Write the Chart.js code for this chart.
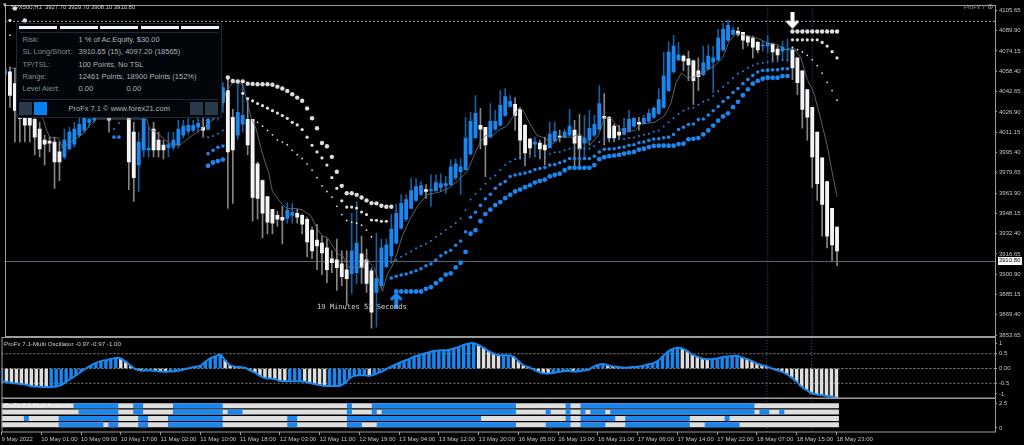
<!DOCTYPE html>
<html>
<head>
<meta charset="utf-8">
<script src="https://cdn.jsdelivr.net/npm/chart.js@4/dist/chart.umd.min.js"></script>
<style>
  html, body { margin: 0; background: #000; overflow: hidden; }
  #wrap { position: relative; width: 1024px; height: 445px; font-family: "Liberation Sans", sans-serif; color: #c4c4c4; }
  canvas { position: absolute; left: 0; }
  .t { position: absolute; white-space: nowrap; font-size: 6px; line-height: 8px; }
  #panel { position: absolute; left: 15.5px; top: 22.5px; width: 204px; height: 93px; background: #02060a; border: 1px solid #1c2a38; }
  #panel .t { font-size: 7.5px; line-height: 10px; color: #7f8c96; }
  #panel .v { color: #aeb4b8; }
  .seg { position: absolute; top: 2.5px; height: 3px; width: 38px; background: #f2f2f2; }
  .rule { position: absolute; left: 3px; width: 198px; height: 1px; background: #1c2a38; }
  .btn { position: absolute; top: 78px; width: 13px; height: 13px; background: #2a3a4a; }
</style>
</head>
<body>
<div id="wrap">
  <canvas id="mainChart" width="1024" height="342" style="top:0"></canvas>
  <canvas id="oscChart" width="1024" height="66" style="top:337px"></canvas>
  <canvas id="analyzerChart" width="1024" height="47" style="top:398px"></canvas>

  <div class="t" style="left:3px;top:1px;font-size:7px">&#9662;</div>
  <div class="t" style="left:11px;top:3px;font-size:5.9px;color:#d4d4d4">SPX500,H1&nbsp; 3927.70 3929.70 3908.10 3910.80</div>
  <div class="t" style="left:964px;top:3px;color:#9a9a9a">ProFx 7 <span style="font-family:'DejaVu Sans';font-size:8px">&#8859;</span></div>
  <div class="t" style="left:317px;top:303px;font-family:'DejaVu Sans Mono';font-size:7.1px;color:#d0d0d0">19 Minutes 52 Seconds</div>
  <div class="t" style="left:997.5px;top:257px;width:24px;height:7.5px;line-height:7.5px;background:#fff;color:#000;text-align:center">3910.80</div>
  <div class="t" style="left:4px;top:340px;color:#d0d0d0;font-size:6.2px">ProFx 7.1-Multi Oscillator -0.97 -0.97 -1.00</div>
  <div class="t" style="left:4px;top:401px;color:#f4f4f4;font-size:6.2px">ProFx 7.1-Multi Analyzer</div>

  <div id="panel">
    <div class="seg" style="left:2.5px"></div><div class="seg" style="left:43px"></div><div class="seg" style="left:83.5px"></div><div class="seg" style="left:124px"></div><div class="seg" style="left:164px"></div>
    <div class="rule" style="top:8px"></div>
    <div class="t" style="left:6px;top:11px">Risk:</div><div class="t v" style="left:62px;top:11px">1 % of Ac.Equity, $30.00</div>
    <div class="t" style="left:6px;top:23px">SL Long/Short:</div><div class="t v" style="left:62px;top:23px">3910.65 (15), 4097.20 (18565)</div>
    <div class="t" style="left:6px;top:36px">TP/TSL:</div><div class="t v" style="left:62px;top:36px">100 Points, No TSL</div>
    <div class="t" style="left:6px;top:48px">Range:</div><div class="t v" style="left:62px;top:48px">12461 Points, 18900 Points (152%)</div>
    <div class="t" style="left:6px;top:60px">Level Alert:</div><div class="t v" style="left:62px;top:60px">0.00</div><div class="t v" style="left:110px;top:60px">0.00</div>
    <div class="rule" style="top:75px"></div>
    <div class="btn" style="left:2.5px"></div><div class="btn" style="left:17.5px;background:#0a80f0"></div>
    <div class="t v" style="left:52px;top:80px">ProFx 7.1 &copy; www.forex21.com</div>
    <div class="btn" style="left:173.5px"></div><div class="btn" style="left:188.5px"></div>
  </div>
</div>

<script>
// tick labels
const timeLabels = ['9 May 2022','10 May 01:00','10 May 09:00','10 May 17:00','11 May 02:00','11 May 10:00','11 May 18:00','12 May 03:00','12 May 11:00','12 May 19:00','13 May 04:00','13 May 12:00','13 May 20:00','16 May 05:00','16 May 13:00','16 May 21:00','17 May 06:00','17 May 14:00','17 May 22:00','18 May 07:00','18 May 15:00','18 May 23:00'];
const priceTicks = [4105.65,4089.90,4074.15,4058.40,4042.65,4026.90,4011.15,3995.40,3979.65,3963.90,3948.15,3932.40,3916.65,3900.90,3885.15,3869.40,3853.65];
const oscTickValues = [0.86,0.5,0,-0.5,-0.86];
const oscTickLabels = ['1','0.5','0.00','-0.5','-1'];
const analyzerTickValues = [2.5,0];
const analyzerTickLabels = ['2.5','0'];

// candles, one entry per hourly bar
const candleOpen = [4055.7,4058.0,4048.8,4034.2,4028.1,4025.0,4021.1,4013.5,4005.0,4004.2,
4003.5,3995.8,3992.0,3998.1,4001.9,4008.9,4012.7,4018.8,4020.4,4028.1,
4034.2,4021.9,4026.5,4038.0,4034.2,4030.4,4011.2,3985.8,3997.3,3997.3,
4013.5,4005.0,4001.2,3998.9,3999.6,4001.2,4008.9,4011.9,4012.7,4015.0,
4015.0,4013.5,4022.7,4025.0,4034.2,4043.4,4022.7,4008.9,4017.3,4021.1,
4021.1,3986.6,3973.5,3961.2,3951.3,3946.6,3945.1,3944.3,3946.6,3948.2,
3946.6,3943.6,3935.1,3927.4,3925.1,3921.3,3912.9,3912.1,3909.0,3904.4,
3901.3,3902.1,3916.7,3912.1,3903.6,3886.7,3892.1,3906.7,3915.2,3925.1,
3936.7,3943.6,3952.0,3958.2,3962.8,3966.6,3965.8,3965.8,3968.2,3969.7,
3970.5,3975.8,3980.4,3982.0,3994.3,4006.6,4016.5,4015.0,4007.3,4013.5,
4016.5,4024.2,4031.1,4032.7,4028.8,4016.5,4005.8,4001.9,4002.7,4001.2,
3998.9,4004.2,4008.1,4007.3,4008.9,4012.7,4008.1,4002.7,4005.0,4008.9,
4013.5,4023.4,4022.7,4015.8,4011.2,4009.6,4011.9,4015.8,4018.8,4018.1,
4019.6,4022.7,4025.8,4030.4,4043.4,4058.0,4067.2,4070.3,4068.0,4066.5,
4058.8,4055.7,4060.3,4065.7,4067.2,4074.9,4082.6,4087.2,4089.5,4088.7,
4085.7,4084.1,4081.0,4078.0,4078.0,4079.5,4075.7,4074.1,4074.9,4074.9,
4068.8,4058.8,4044.2,4030.4,4011.2,3991.2,3972.8,3952.0,3937.4];
const candleClose = [4059.5,4039.6,4028.1,4021.9,4016.5,4016.5,4007.3,3998.1,4001.9,4002.7,
3988.1,3988.1,4005.0,4011.2,4013.5,4017.3,4022.7,4021.1,4030.4,4034.2,
4029.6,4020.4,4034.2,4031.1,4024.2,3988.1,3975.8,4003.5,4021.1,3998.9,
3997.3,3997.3,3997.3,4001.9,4005.0,4013.5,4015.8,4016.5,4016.5,4018.1,
4012.7,4021.1,4030.4,4034.2,4045.7,3995.8,3997.3,4026.5,4024.2,4001.2,
3960.5,3959.7,3948.2,3941.3,3940.5,3943.6,3942.8,3950.5,3949.0,3945.1,
3939.7,3925.9,3919.0,3922.8,3917.5,3904.4,3909.8,3905.9,3899.0,3897.5,
3919.0,3925.1,3905.9,3893.7,3871.4,3897.5,3921.3,3923.6,3935.9,3948.2,
3955.9,3958.9,3965.8,3968.9,3969.7,3965.1,3966.6,3972.0,3971.2,3971.2,
3984.3,3986.6,3984.3,4006.6,4019.6,4025.8,4013.5,4001.2,4019.6,4019.6,
4031.9,4038.8,4035.0,4024.2,4005.0,3995.0,3998.9,4003.5,3998.1,3997.3,
4009.6,4011.9,4007.3,4011.2,4015.8,4002.7,3998.1,4006.6,4014.2,4017.3,
4033.4,4021.9,4006.6,4006.6,4008.9,4014.2,4021.1,4021.9,4017.3,4021.9,
4025.8,4029.6,4036.5,4054.9,4073.4,4078.0,4071.1,4066.5,4063.4,4051.1,
4054.2,4064.9,4070.3,4068.8,4084.1,4091.0,4094.1,4090.3,4087.2,4082.6,
4081.0,4077.2,4074.9,4078.7,4080.3,4073.4,4071.1,4077.2,4075.7,4061.1,
4049.6,4028.8,4022.7,3992.0,3971.2,3955.1,3930.5,3923.6,3919.0];
const candleHigh = [4074.1,4061.8,4061.1,4045.7,4038.0,4034.2,4026.5,4018.8,4008.9,4007.3,
4007.3,4003.5,4013.5,4015.0,4018.8,4022.7,4030.4,4034.2,4038.0,4041.9,
4041.9,4034.2,4041.9,4045.7,4040.3,4038.0,4018.8,4011.2,4030.4,4015.0,
4018.8,4011.2,4005.0,4011.2,4011.2,4020.4,4020.4,4021.9,4020.4,4024.2,
4021.9,4030.4,4038.0,4040.3,4049.6,4053.4,4028.8,4049.6,4048.0,4036.5,
4021.1,3988.1,3974.3,3961.2,3951.3,3949.7,3953.6,3956.6,3955.9,3951.3,
3947.4,3945.1,3937.4,3939.7,3930.5,3928.2,3919.0,3928.2,3919.0,3919.0,
3948.2,3957.4,3930.5,3920.5,3905.9,3932.8,3928.2,3928.2,3947.4,3955.1,
3962.8,3962.8,3975.1,3975.1,3972.8,3970.5,3978.1,3978.1,3978.9,3976.6,
3989.7,3990.4,3990.4,4022.7,4026.5,4039.6,4029.6,4015.0,4033.4,4028.1,
4043.4,4045.0,4039.6,4038.0,4030.4,4017.3,4006.6,4007.3,4005.0,4007.3,
4018.8,4018.8,4012.7,4013.5,4028.8,4020.4,4025.0,4024.2,4028.1,4024.2,
4047.3,4041.1,4023.4,4017.3,4016.5,4021.9,4028.1,4022.7,4022.7,4024.2,
4028.8,4031.1,4045.0,4073.4,4081.0,4086.4,4081.0,4071.1,4074.1,4067.2,
4068.8,4078.0,4078.7,4078.0,4091.0,4095.6,4097.9,4092.6,4092.6,4088.7,
4085.7,4085.7,4081.0,4081.8,4086.4,4080.3,4078.0,4081.8,4083.4,4077.2,
4068.8,4058.8,4044.2,4030.4,4011.2,3991.2,3972.8,3952.0,3937.4];
const candleLow = [4055.7,4030.4,4003.5,4003.5,4003.5,4003.5,3993.5,3992.0,3985.8,3995.8,
3967.4,3973.5,3990.4,3997.3,3999.6,4007.3,4011.2,4015.0,4018.8,4025.0,
4026.5,4011.2,4023.4,4025.0,4022.7,3966.6,3957.4,3965.1,3992.0,3992.0,
3992.0,3992.0,3990.4,3992.0,3997.3,3998.9,4006.6,4009.6,4011.2,4011.2,
4007.3,4012.7,4020.4,4020.4,4026.5,3952.0,3955.9,4005.8,4011.2,3993.5,
3942.0,3943.6,3929.0,3932.1,3932.1,3938.2,3924.4,3940.5,3940.5,3940.5,
3932.1,3914.4,3912.9,3904.4,3900.6,3894.4,3902.1,3888.3,3892.1,3876.8,
3886.0,3893.7,3893.7,3886.7,3859.1,3859.9,3890.6,3905.9,3909.8,3924.4,
3935.9,3942.0,3952.0,3957.4,3962.0,3959.7,3953.6,3965.1,3965.1,3963.6,
3969.7,3974.3,3962.8,3982.0,3993.5,4006.6,3998.1,3976.6,4007.3,4012.7,
4015.8,4023.4,4030.4,4012.7,3990.4,3985.0,3993.5,3993.5,3990.4,3985.8,
3998.9,4003.5,4003.5,4006.6,4008.1,3984.3,3982.7,3990.4,4001.2,4007.3,
4012.7,4001.2,4003.5,4003.5,4005.8,4008.9,4011.2,4015.0,4012.7,4017.3,
4018.8,4021.9,4025.0,4029.6,4042.6,4057.2,4066.5,4058.8,4051.1,4032.7,
4043.4,4054.9,4059.5,4041.9,4066.5,4074.1,4081.8,4086.4,4085.7,4075.7,
4078.0,4068.8,4072.6,4074.1,4072.6,4066.5,4067.2,4067.2,4066.5,4051.9,
4040.3,4014.2,4005.0,3968.2,3958.2,3930.5,3921.3,3911.3,3907.5];

// thin moving average, read at the bars below
const maBars = [1,2,7.8,8.4,9,10.8,11.8,12.5,13.8,15.8,17.1,18.5,28.6,29.2,30.9,33.3,35.3,37.3,39.3,40.6,43.3,44.7,46,48,49.7,50.7,51.7,52.7,53.2,54,56,57,58.8,60,61.8,63.1,64.1,65.1,66.2,67.2,68.2,69.4,72.1,73.1,74.5,75.1,76.2,77.2,78.2,79.2,80.2,81.9,83.5,85.2,87.6,89.6,91.6,93.3,93.9,95,96,97,98.3,99.6,101.3,102.7,103.7,104.7,106,107.4,109,110.7,112,114.4,116.1,118.1,119.8,121.1,122.5,123.8,125.1,127.2,128.5,131.2,133.2,134.5,135.5,136.6,137.8,138.8,140.9,143.2,144.9,146.2,147.6,148.9,150.3,151.9,154,156,157.6,159.3,160.7,162,163.3,164.7,166,167,168];
const maValues = [4061.1,4060.5,4020.4,4012.7,4007.3,4006.6,3998.3,4001.2,4005.0,4009.9,4016.5,4021.4,4021.4,4013.7,4009.9,4002.2,4001.0,4007.3,4012.5,4016.3,4025.2,4043.2,4049.6,4048.3,4022.7,4013.7,3998.3,3985.6,3980.4,3965.1,3954.9,3951.8,3951.8,3951.0,3945.9,3935.7,3930.5,3929.2,3922.8,3916.5,3915.2,3906.2,3906.2,3911.9,3906.2,3899.8,3887.7,3901.1,3907.5,3917.7,3930.5,3944.6,3954.9,3962.5,3964.5,3967.6,3974.1,3980.4,3985.6,3995.8,4003.5,4008.6,4008.1,4012.5,4015.8,4024.0,4029.6,4027.8,4017.5,4008.6,4006.6,4002.2,4007.3,4007.3,4009.9,4001.0,4008.6,4022.7,4021.4,4015.0,4011.2,4012.5,4017.5,4018.8,4024.0,4034.2,4049.6,4057.2,4053.4,4053.4,4057.2,4062.4,4068.8,4081.6,4088.0,4086.7,4085.4,4084.1,4080.3,4079.0,4075.1,4076.4,4068.8,4052.1,4041.9,4021.4,4001.0,3980.4,3961.2];

// blue trend dots: big, medium, small
const blueBigA = [3985.0,3987.6,3988.7,3989.9];
const blueBigB = [3887.5,3887.5,3887.5,3887.5,3887.5,3887.5,3889.6,3890.8,3893.9,3896.7,3900.6,3901.6,3906.2,3909.8,3918.2,3932.3,3935.1,3942.0,3947.6,3951.0,3954.6,3956.9,3959.9,3962.5,3965.1,3966.6,3968.4,3969.9,3972.0,3973.3,3974.3,3976.8,3977.9,3978.9,3981.6,3983.5,3983.5,3983.5,3983.5,3983.5,3985.6,3990.2,3991.7,3992.5,3993.0,3993.5,3994.5,3995.3,3995.8,3997.6,3998.3,3999.6,4000.4,4000.6,4000.6,4000.6,4000.6,4001.9,4002.2,4005.6,4006.0,4006.6,4009.4,4012.5,4016.3,4020.1,4023.4,4025.8,4030.6,4034.7,4039.8,4044.4,4048.8,4050.9,4052.6,4053.4,4053.4,4053.4,4054.7,4054.7];
const blueMidA = [4007.3,4007.3];
const blueMidB = [3994.5,3997.1,3999.4,4000.4];
const blueMidC = [3898.0,3899.3,3900.3,3901.1,3902.3,3903.6,3905.2,3907.5,3908.8,3911.9,3915.2,3917.7,3919.5,3923.4,3926.7,3933.8,3945.1,3949.0,3954.3,3959.5,3963.0,3967.6,3970.7,3972.8,3976.8,3977.9,3978.7,3979.4,3980.4,3982.2,3983.0,3983.7,3985.6,3986.0,3987.4,3988.7,3990.7,3990.7,3990.7,3990.7,3990.7,3992.5,3995.8,3997.9,3998.1,3998.3,3999.1,3999.6,4001.0,4001.4,4002.9,4003.5,4004.8,4005.8,4006.0,4006.8,4007.3,4009.4,4013.2,4015.0,4017.1,4017.5,4020.9,4021.4,4024.4,4027.8,4031.1,4035.0,4038.0,4041.9,4045.0,4048.8,4052.1,4055.2,4057.8,4059.0,4059.3,4059.5,4059.5,4060.3,4060.3];
const blueSmallA = [4013.7,4018.3];
const blueSmallB = [4007.3,4008.1,4009.9,4012.5];
const blueSmallC = [3910.0,3911.9,3914.4,3916.5,3918.5,3921.1,3922.8,3924.6,3926.9,3930.0,3932.3,3935.4,3937.7,3940.7,3944.1,3950.5,3958.9,3963.3,3966.8,3971.2,3975.1,3977.6,3981.7,3985.6,3988.1,3990.2,3990.7,3991.2,3992.0,3992.7,3993.3,3993.7,3994.5,3995.3,3995.8,3997.1,3998.3,3998.3,3998.3,3998.3,3998.3,4000.2,4003.5,4005.6,4005.6,4005.6,4005.6,4005.8,4006.6,4007.1,4008.1,4009.1,4009.9,4011.7,4012.5,4015.5,4018.8,4021.9,4025.2,4027.8,4029.6,4030.1,4032.4,4034.7,4036.3,4039.3,4042.9,4046.5,4049.6,4053.2,4056.7,4058.5,4061.1,4062.8,4064.2,4064.9,4065.7,4065.9,4066.2,4067.0,4067.0];

// white trend dots: big, medium, small
const whiteBigA = [4107.2,null,4097.9];
const whiteBigB = [4053.6,4050.9,4050.6,4050.6,4048.8,4048.6,4048.3,4048.3,4048.3,4048.0,4046.5,4045.0,4043.2,4040.6,4038.0,4035.5,4029.6,4021.9,4014.2,4002.7,4000.2,3992.0,3980.4,3969.5,3963.8,3963.8,3962.5,3960.5,3958.2,3956.1,3955.9,3954.1,3953.3,3953.3];
const whiteBigC = [4089.3,4089.3,4089.3,4089.3,4089.3,4089.3,4089.3,4089.3,4089.3,4089.3];
const whiteMidA = [4097.9];
const whiteMidB = [4041.3,4037.3,4035.5,4033.4,4031.7,4029.8,4027.8,4026.0,4024.0,4021.9,4018.8,4016.8,4013.2,4007.3,4001.0,3995.8,3991.2,3985.6,3975.8,3967.6,3957.9,3953.0,3953.0,3952.3,3949.2,3947.2,3943.0,3942.8,3942.0,3942.0];
const whiteMidC = [4082.8,4082.8,4082.8,4082.8,4082.8,4082.8,4080.8,4078.0,4073.6,4068.8];
const whiteSmallA = [4086.4];
const whiteSmallB = [4018.8,4015.8,4012.5,4009.1,4005.2,4003.5,4001.4,3997.1,3993.7,3990.7,3986.4,3981.7,3975.8,3969.5,3965.1,3960.7,3953.6,3947.2,3942.6,3941.3,3940.5,3939.0,3935.1,3930.0];
const whiteSmallC = [4077.0,4075.1,4073.4,4070.8,4067.5,4062.8,4057.0,4049.8,4043.4,4036.0];

const currentPrice = 3910.80;
const stopPrice = 4097.20;
const markerBars = [154,163];

// oscillator, one entry per bar
const oscValues = [-.45,-.46,-.49,-.51,-.53,-.55,-.60,-.61,-.62,-.63,
-.63,-.61,-.56,-.45,-.34,-.23,-.11,0,.11,.19,
.25,.28,.32,.36,.34,.23,.09,-.02,-.07,-.07,
-.07,-.08,-.10,-.11,-.10,-.09,-.06,-.02,.02,.06,
.09,.23,.34,.41,.47,.28,.11,.06,.05,.02,
-.06,-.14,-.25,-.32,-.34,-.36,-.42,-.43,-.43,-.43,
-.43,-.45,-.49,-.53,-.56,-.59,-.59,-.59,-.59,-.51,
-.34,-.25,-.23,-.23,-.25,-.20,-.14,-.06,.03,.11,
.19,.26,.32,.40,.45,.50,.55,.59,.61,.62,
.63,.68,.73,.80,.85,.86,.79,.70,.59,.51,
.45,.45,.45,.40,.25,.11,.05,-.03,-.11,-.16,
-.17,-.15,-.12,-.09,-.08,-.10,-.10,-.07,-.05,.05,
.12,.15,.11,.07,.05,.03,.03,.05,.06,.09,
.14,.17,.25,.40,.56,.66,.70,.68,.59,.47,
.40,.34,.31,.32,.34,.38,.41,.42,.43,.37,
.32,.25,.17,.11,.07,0,-.06,-.11,-.19,-.31,
-.45,-.62,-.73,-.84,-.88,-.90,-.93,-.95,-.98];
const oscLevels = [0.5,0,-0.5];

// analyzer rows, blue runs as [from bar, to bar]
const analyzerLastBar = 168.5;
const analyzerRowLevels = [2.27,1.63,0.97,0.34];
const analyzerRow1 = [[14.5,23.5],[26.5,28.5],[34.5,44.5],[69.5,70.5],[74.5,103.5],[113.5,114.5],[116.5,151.5]];
const analyzerRow2 = [[15.5,23.5],[26.5,28.5],[34.5,44.5],[45.5,48.5],[69.5,70.5],[74.5,75.5],[76.5,103.5],[109.5,110.5],[113.5,114.5],[116.5,117.5],[118.5,121.5],[122.5,151.5],[152.5,154.5],[156.5,157.5]];
const analyzerRow3 = [[4.5,5.5],[11.5,23.5],[27.5,29.5],[33.5,44.5],[57.5,59.5],[69.5,96.5],[113.5,114.5],[116.5,123.5],[125.5,138.5],[145.5,146.5]];
const analyzerRow4 = [[11.5,20.5],[21.5,23.5],[27.5,29.5],[33.5,44.5],[57.5,59.5],[69.5,72.5],[75.5,103.5],[109.5,114.5],[116.5,121.5],[125.5,138.5],[141.5,148.5]];

const BLUE = '#1b86ee';
const BLUE_WICK = '#15609f';
const WHITE = '#f4f4f4';
const WHITE_WICK = '#858585';
const DOT_WHITE = '#dddddd';
const FRAME = '#9c9c9c';
const TICK_TEXT = '#c4c4c4';
const MARKER = '#1f5f9f';
const tickFont = { family: 'Liberation Sans', size: 6 };

const xMin = 0, xMax = 199.9;

// dots from a start bar and a list of values
function dots(start, values) {
  return values.map((v, k) => ({ x: start + k, y: v }));
}

function dotSet(points, color, radius) {
  return { type: 'line', data: points, showLine: false, pointRadius: radius, pointBackgroundColor: color, pointBorderWidth: 0, order: 1 };
}

function flatLine(points, color, dash, order) {
  return { type: 'line', data: points, borderColor: color, borderWidth: 1, borderDash: dash, pointRadius: 0, order: order };
}

function arrowImage(color, down) {
  const c = document.createElement('canvas');
  c.width = 14; c.height = 17;
  const g = c.getContext('2d');
  if (down) { g.translate(0, 17); g.scale(1, -1); }
  g.fillStyle = color;
  g.beginPath();
  g.moveTo(7, 0); g.lineTo(13.5, 7); g.lineTo(11, 9); g.lineTo(9, 6.5); g.lineTo(9, 17); g.lineTo(5, 17); g.lineTo(5, 6.5); g.lineTo(3, 9); g.lineTo(0.5, 7);
  g.closePath();
  g.fill();
  return c;
}

// keeps every panel on the same pixel columns
function pinAxis(scale) {
  scale.paddingTop = 0; scale.paddingBottom = 0; scale.paddingLeft = 0; scale.paddingRight = 0;
  if (scale.axis === 'y') scale.width = 29; else scale.height = scale.options.display ? 13 : 0;
}

const framePlugin = {
  id: 'frame',
  afterDraw(chart) {
    const a = chart.chartArea, ctx = chart.ctx;
    ctx.save();
    ctx.strokeStyle = FRAME;
    ctx.lineWidth = 1;
    ctx.strokeRect(a.left + 0.5, a.top + 0.5, a.width, a.height - 0.5);
    ctx.restore();
  }
};

function xAxis(show) {
  return {
    type: 'linear', min: xMin, max: xMax, display: show, offset: false,
    afterBuildTicks: axis => { axis.ticks = timeLabels.map((l, k) => ({ value: k * 8 })); },
    afterFit: pinAxis,
    grid: { drawOnChartArea: false, offset: false, color: FRAME, tickLength: 3 },
    border: { display: false },
    ticks: { autoSkip: false, maxRotation: 0, align: 'start', padding: 1, color: TICK_TEXT, font: tickFont, callback: v => timeLabels[v / 8] }
  };
}

function yAxis(min, max, tickValues, tickText) {
  return {
    position: 'right', min: min, max: max,
    afterBuildTicks: axis => { axis.ticks = tickValues.map(v => ({ value: v })); },
    afterFit: pinAxis,
    grid: { drawOnChartArea: false, color: FRAME, tickLength: 2 },
    border: { display: false },
    ticks: { autoSkip: false, padding: 2, color: TICK_TEXT, font: tickFont, callback: tickText }
  };
}

const baseOptions = {
  responsive: false, animation: false, events: [],
  plugins: { legend: { display: false }, tooltip: { enabled: false } }
};

const bars = candleOpen.map((v, i) => i);
const isUp = i => candleClose[i] >= candleOpen[i];
const markerLines = (lo, hi) => markerBars.map(b => flatLine([{ x: b, y: lo }, { x: b, y: hi }], MARKER, [1, 2], 9));

new Chart(document.getElementById('mainChart'), {
  type: 'bar',
  data: {
    datasets: [
      ...markerLines(3852.6, 4109.8),
      flatLine([{ x: xMin, y: currentPrice }, { x: xMax, y: currentPrice }], '#56687a', [], 8),
      flatLine([{ x: xMin, y: stopPrice }, { x: xMax, y: stopPrice }], '#b4b4b4', [2, 2], 8),
      { data: bars.map(i => ({ x: i, y: [candleLow[i], candleHigh[i]] })), grouped: false, barThickness: 1, order: 6,
        backgroundColor: c => isUp(c.dataIndex) ? BLUE_WICK : WHITE_WICK },
      { data: bars.map(i => ({ x: i, y: [candleOpen[i], candleClose[i]] })), grouped: false, barThickness: 3.2, minBarLength: 1, order: 5,
        backgroundColor: c => isUp(c.dataIndex) ? BLUE : WHITE },
      { type: 'line', data: maBars.map((b, k) => ({ x: b, y: maValues[k] })), borderColor: '#6d7883', borderWidth: 0.8, pointRadius: 0, order: 2 },
      dotSet(dots(41, blueBigA), BLUE, 2.4),
      dotSet(dots(79, blueBigB), BLUE, 2.4),
      dotSet(dots(22, blueMidA), BLUE, 1.8),
      dotSet(dots(41, blueMidB), BLUE, 1.8),
      dotSet(dots(78, blueMidC), BLUE, 1.8),
      dotSet(dots(22, blueSmallA), BLUE, 1),
      dotSet(dots(41, blueSmallB), BLUE, 1),
      dotSet(dots(78, blueSmallC), BLUE, 1),
      dotSet(dots(2, whiteBigA), DOT_WHITE, 2.2),
      dotSet(dots(45, whiteBigB), DOT_WHITE, 2.2),
      dotSet(dots(159, whiteBigC), DOT_WHITE, 2.2),
      dotSet(dots(1, whiteMidA), DOT_WHITE, 1.6),
      dotSet(dots(48, whiteMidB), DOT_WHITE, 1.6),
      dotSet(dots(159, whiteMidC), DOT_WHITE, 1.6),
      dotSet(dots(1, whiteSmallA), DOT_WHITE, 0.9),
      dotSet(dots(51, whiteSmallB), DOT_WHITE, 0.9),
      dotSet(dots(159, whiteSmallC), DOT_WHITE, 0.9),
      { type: 'line', data: [{ x: 79, y: 3880.6 }], showLine: false, pointStyle: arrowImage(BLUE, false), order: 0 },
      { type: 'line', data: [{ x: 159, y: 4097.9 }], showLine: false, pointStyle: arrowImage('#ffffff', true), order: 0 }
    ]
  },
  options: {
    ...baseOptions,
    layout: { padding: { left: 1.5, top: 1.5, bottom: 5.5, right: 0 } },
    scales: { x: xAxis(false), y: yAxis(3852.57, 4109.85, priceTicks, v => v.toFixed(2)) }
  },
  plugins: [framePlugin]
});

new Chart(document.getElementById('oscChart'), {
  type: 'bar',
  data: {
    datasets: [
      ...markerLines(-1, 1.068),
      ...oscLevels.map(l => flatLine([{ x: xMin, y: l }, { x: xMax, y: l }], '#8a8a8a', [2, 2], 7)),
      { data: bars.map(i => ({ x: i, y: oscValues[i] })), grouped: false, barThickness: 2.8, order: 5,
        backgroundColor: c => (c.dataIndex === 0 || oscValues[c.dataIndex] >= oscValues[c.dataIndex - 1]) ? BLUE : '#dedede' },
      { type: 'line', data: bars.map(i => ({ x: i, y: oscValues[i] })), borderColor: BLUE, borderWidth: 2, tension: 0.3, pointRadius: 0, order: 1 }
    ]
  },
  options: {
    ...baseOptions,
    layout: { padding: { left: 1.5, top: 0, bottom: 5, right: 0 } },
    scales: { x: xAxis(false), y: yAxis(-1, 1.068, oscTickValues, (v, k) => oscTickLabels[k]) }
  },
  plugins: [framePlugin]
});

const analyzerRows = [analyzerRow1, analyzerRow2, analyzerRow3, analyzerRow4];
const rowLine = (points, color) => ({ data: points, borderColor: color, borderWidth: 5, borderCapStyle: 'butt', pointRadius: 0, spanGaps: false, order: color === BLUE ? 1 : 2 });

new Chart(document.getElementById('analyzerChart'), {
  type: 'line',
  data: {
    datasets: [
      ...markerLines(-0.41, 3.06),
      ...analyzerRows.map((r, k) => rowLine([{ x: 0, y: analyzerRowLevels[k] }, { x: analyzerLastBar, y: analyzerRowLevels[k] }], '#dedede')),
      ...analyzerRows.map((r, k) => rowLine(r.flatMap(run => [{ x: run[0], y: analyzerRowLevels[k] }, { x: run[1], y: analyzerRowLevels[k] }, { x: run[1], y: null }]), BLUE))
    ]
  },
  options: {
    ...baseOptions,
    layout: { padding: { left: 1.5, top: 0, bottom: 0, right: 0 } },
    scales: { x: xAxis(true), y: yAxis(-0.41, 3.06, analyzerTickValues, (v, k) => analyzerTickLabels[k]) }
  },
  plugins: [framePlugin]
});
</script>
</body>
</html>
